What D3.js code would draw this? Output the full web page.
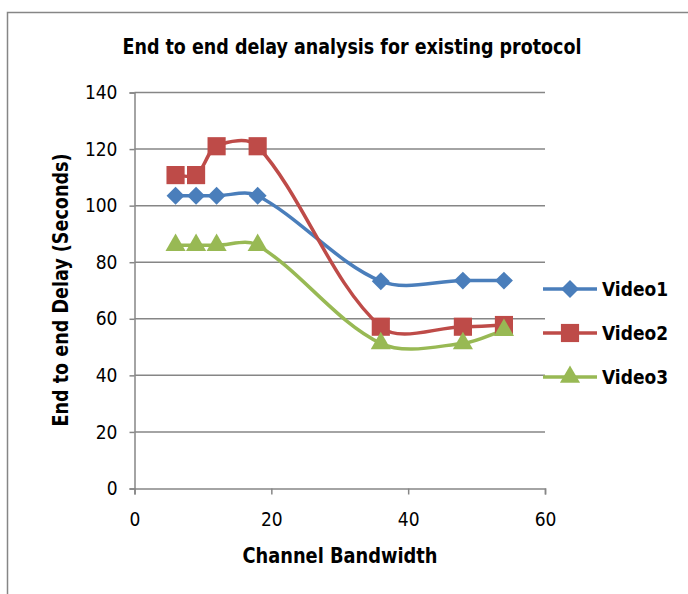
<!DOCTYPE html>
<html>
<head>
<meta charset="utf-8">
<script src="https://cdn.jsdelivr.net/npm/d3@7"></script>
<style>
  body { margin: 0; background: #fff; }
  svg text { font-family: "DejaVu Sans Condensed", "Liberation Sans", Arial, sans-serif; font-stretch: condensed; }
</style>
</head>
<body>
<svg width="688" height="594"></svg>
<script>
// data
let bandwidth = [6, 9, 12, 18, 36, 48, 54];
let video1 = [103.5, 103.5, 103.5, 103.5, 73.3, 73.5, 73.5];
let video2 = [110.8, 110.8, 121, 121, 57.2, 57.2, 57.8];
let video3 = [86, 86, 86, 86, 51.3, 51.3, 56];
let seriesNames = ["Video1", "Video2", "Video3"];
let colors = ["#4A7EBB", "#BE4B48", "#98B954"];
let xTicks = [0, 20, 40, 60];
let yTicks = [0, 20, 40, 60, 80, 100, 120, 140];

let series = [video1, video2, video3].map((vals, i) => ({
    name: seriesNames[i],
    color: colors[i],
    points: vals.map((v, j) => ({x: bandwidth[j], y: v}))
}));

let svg = d3.select("svg");
let gridColor = "#868686";

// smoothing roughly like a spreadsheet "smoothed line": bezier segments,
// tangents weighted by the lengths of the neighbouring segments
function smoothCurve(context) {
    let pts = [];
    let dist = (a, b) => Math.hypot(a[0] - b[0], a[1] - b[1]);
    return {
        areaStart() {}, areaEnd() {},
        lineStart() { pts = []; },
        point(px, py) { pts.push([+px, +py]); },
        lineEnd() {
            let n = pts.length;
            if (!n) return;
            context.moveTo(pts[0][0], pts[0][1]);
            for (let i = 0; i < n - 1; i++) {
                let p0 = pts[Math.max(i - 1, 0)], p1 = pts[i], p2 = pts[i + 1], p3 = pts[Math.min(i + 2, n - 1)];
                let d01 = dist(p0, p1), d12 = dist(p1, p2), d23 = dist(p2, p3);
                let f1 = d12 / (d01 + d12) / 3, f2 = d12 / (d12 + d23) / 3;
                context.bezierCurveTo(
                    p1[0] + (p2[0] - p0[0]) * f1, p1[1] + (p2[1] - p0[1]) * f1,
                    p2[0] - (p3[0] - p1[0]) * f2, p2[1] - (p3[1] - p1[1]) * f2,
                    p2[0], p2[1]);
            }
        }
    };
}

// outer chart frame (runs off the right and bottom edges)
svg.append("rect")
    .attr("x", 7.5).attr("y", 12.5)
    .attr("width", 700).attr("height", 600)
    .attr("fill", "none").attr("stroke", gridColor).attr("stroke-width", 1.5);

let x = d3.scaleLinear().domain([0, 60]).range([134.5, 545]);
let y = d3.scaleLinear().domain([0, 140]).range([488.5, 92.5]);

// horizontal gridlines
svg.append("g").selectAll("line")
    .data(yTicks.filter(d => d > 0))
    .join("line")
    .attr("x1", x(0)).attr("x2", x(60))
    .attr("y1", d => y(d)).attr("y2", d => y(d))
    .attr("stroke", gridColor).attr("stroke-width", 1.5);

// y axis
let yAxis = svg.append("g")
    .attr("transform", `translate(${x(0)},0)`)
    .call(d3.axisLeft(y).tickValues(yTicks).tickSize(5).tickPadding(12));
yAxis.select(".domain").attr("stroke", gridColor).attr("stroke-width", 1.5);
yAxis.selectAll(".tick line").attr("stroke", gridColor).attr("stroke-width", 1.5);
yAxis.selectAll("text").attr("font-size", 19).attr("fill", "#000");

// x axis
let xAxis = svg.append("g")
    .attr("transform", `translate(0,${y(0)})`)
    .call(d3.axisBottom(x).tickValues(xTicks).tickSize(6).tickPadding(18));
xAxis.select(".domain").attr("stroke", gridColor).attr("stroke-width", 1.5);
xAxis.selectAll(".tick line").attr("stroke", gridColor).attr("stroke-width", 1.5);
xAxis.selectAll("text").attr("font-size", 19).attr("fill", "#000");

// smoothed lines
let line = d3.line()
    .x(d => x(d.x)).y(d => y(d.y))
    .curve(smoothCurve);

svg.append("g").selectAll("path")
    .data(series)
    .join("path")
    .attr("d", d => line(d.points))
    .attr("fill", "none")
    .attr("stroke", d => d.color)
    .attr("stroke-width", 3.5)
    .attr("stroke-linejoin", "round");

let symbols = [d3.symbolDiamond2, d3.symbolSquare2, d3.symbolTriangle2];
let symbolSizes = [205, 420, 290];

function drawMarker(g, i) {
    g.append("path")
        .attr("d", d3.symbol().type(symbols[i]).size(symbolSizes[i])())
        .attr("fill", colors[i]);
}

series.forEach((s, i) => {
    svg.append("g").selectAll("g")
        .data(s.points)
        .join("g")
        .attr("transform", d => `translate(${x(d.x)},${y(d.y)})`)
        .each(function() { drawMarker(d3.select(this), i); });
});

// legend
let legendY = [289, 333, 377];
series.forEach((s, i) => {
    let g = svg.append("g").attr("transform", `translate(0,${legendY[i]})`);
    g.append("line")
        .attr("x1", 543).attr("x2", 597)
        .attr("stroke", s.color).attr("stroke-width", 3.5);
    g.append("g").attr("transform", "translate(570,0)")
        .call(gg => drawMarker(gg, i));
    g.append("text")
        .attr("x", 602).attr("y", 0).attr("dy", "0.35em")
        .attr("font-size", 20).attr("font-weight", "bold")
        .attr("textLength", 66).attr("lengthAdjust", "spacingAndGlyphs")
        .text(s.name);
});

// titles
svg.append("text")
    .attr("x", 352).attr("y", 47).attr("dy", "0.35em")
    .attr("text-anchor", "middle")
    .attr("font-size", 21).attr("font-weight", "bold")
    .attr("textLength", 459).attr("lengthAdjust", "spacingAndGlyphs")
    .text("End to end delay analysis for existing protocol");

svg.append("text")
    .attr("x", 340).attr("y", 556).attr("dy", "0.35em")
    .attr("text-anchor", "middle")
    .attr("font-size", 21).attr("font-weight", "bold")
    .attr("textLength", 195).attr("lengthAdjust", "spacingAndGlyphs")
    .text("Channel Bandwidth");

svg.append("text")
    .attr("transform", "translate(61,290) rotate(-90)")
    .attr("dy", "0.35em")
    .attr("text-anchor", "middle")
    .attr("font-size", 21).attr("font-weight", "bold")
    .attr("textLength", 273).attr("lengthAdjust", "spacingAndGlyphs")
    .text("End to end Delay (Seconds)");
</script>
</body>
</html>
